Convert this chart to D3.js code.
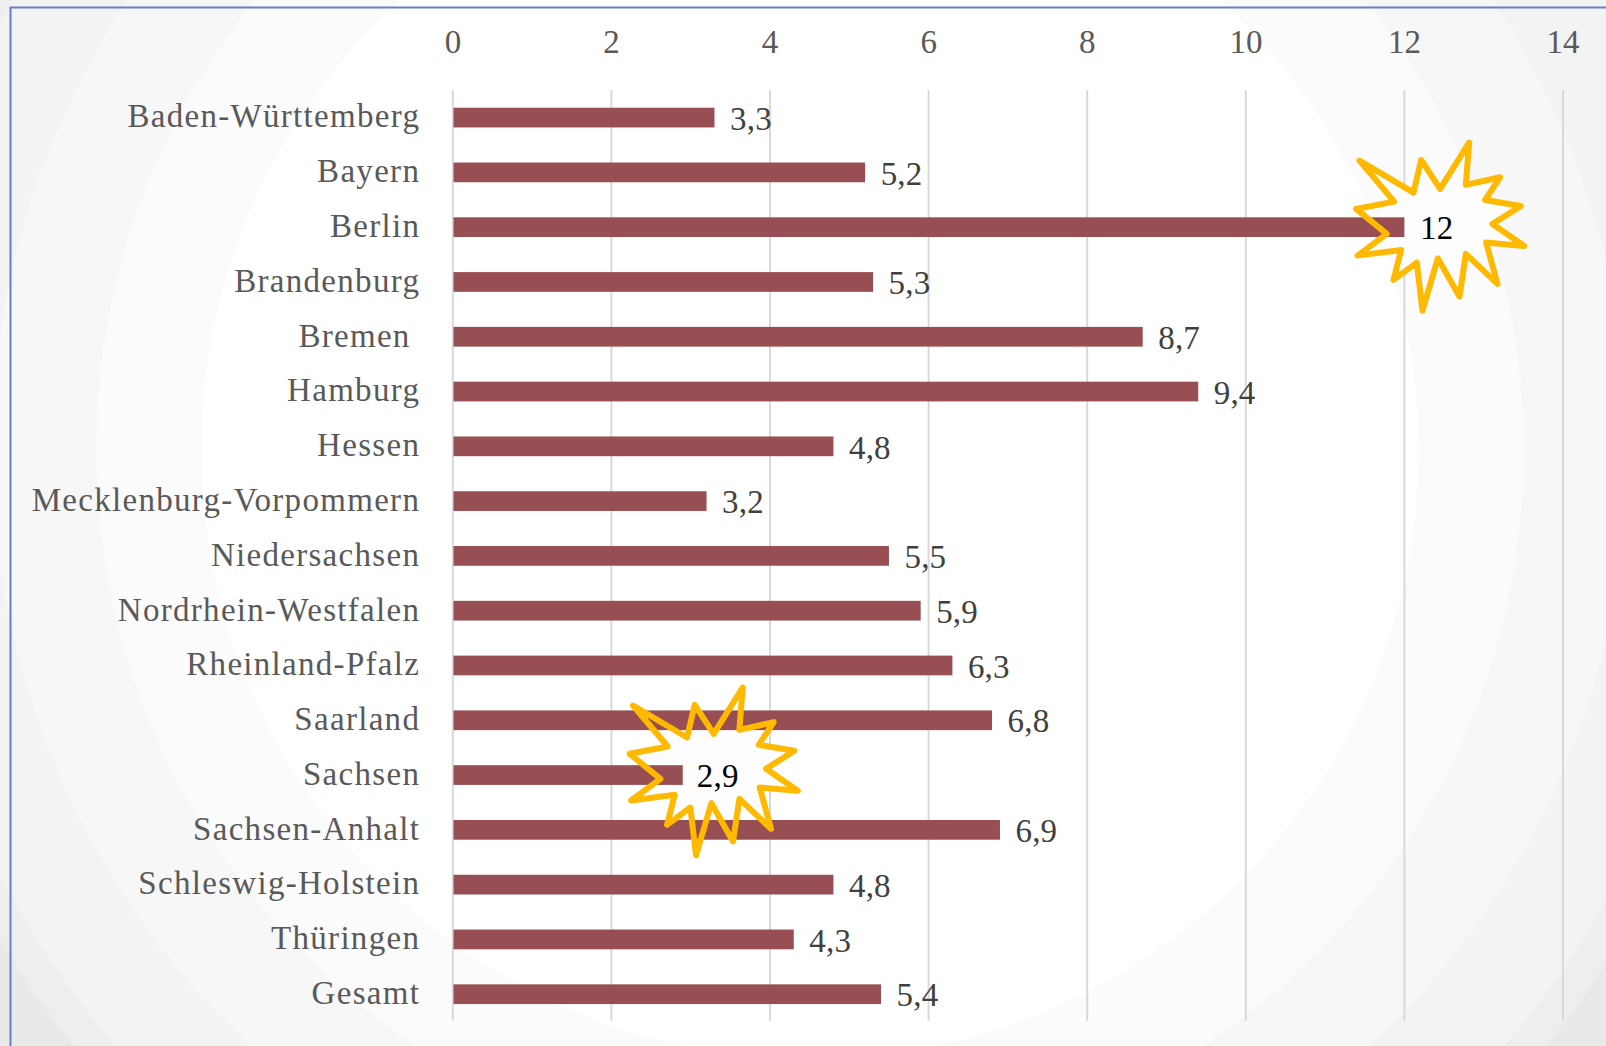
<!DOCTYPE html>
<html lang="de">
<head>
<meta charset="utf-8">
<title>Balkendiagramm Bundesländer</title>
<script src="https://cdn.jsdelivr.net/npm/d3@7"></script>
<style>
html,body{margin:0;padding:0;background:#fff;overflow:hidden}
svg{display:block}
text{font-family:"Liberation Serif",serif;white-space:pre}
</style>
</head>
<body>
<svg id="chart" width="1606" height="1046"></svg>
<script>
const categories = ["Baden-Württemberg","Bayern","Berlin","Brandenburg","Bremen ","Hamburg","Hessen","Mecklenburg-Vorpommern","Niedersachsen","Nordrhein-Westfalen","Rheinland-Pfalz","Saarland","Sachsen","Sachsen-Anhalt","Schleswig-Holstein","Thüringen","Gesamt"];
const values = [3.3,5.2,12,5.3,8.7,9.4,4.8,3.2,5.5,5.9,6.3,6.8,2.9,6.9,4.8,4.3,5.4];
const xTickValues = [0,2,4,6,8,10,12,14];
const highlighted = ["Berlin","Sachsen"];
const burstOffsets = {"Berlin":[32.4,1.1],"Sachsen":[27.6,-1.9]};
const highlightLabelOffsets = {"Berlin":32.4,"Sachsen":35};
const burstOutline = [[97,-257],[87,-130],[190,-153],[145,-85],[252,-67],[167,-13],[262,53],[148,43],[182,167],[87,77],[68,205],[3,90],[-43,247],[-60,103],[-130,155],[-107,65],[-238,82],[-150,17],[-242,-58],[-128,-80],[-232,-203],[-70,-107],[-47,-205],[10,-118]];
const ringRadii = [1400,947,915,818,714,609];
const ringColours = ["#e9e9e9","#eeeeee","#f3f3f3","#f7f7f7","#fbfbfb","#ffffff"];

const svg = d3.select("#chart");
const fmt = v => String(v).replace(".", ",");

svg.selectAll("circle.ring").data(ringRadii).join("circle")
  .attr("class","ring").attr("cx",810).attr("cy",450)
  .attr("r",d=>d).attr("fill",(d,i)=>ringColours[i]);

svg.append("path").attr("d","M10.5,1046V7.5H1606").attr("fill","none")
  .attr("stroke","#6280c8").attr("stroke-width",2);

const x = d3.scaleLinear().domain([0,14]).range([452.8,1563]);
const y = d3.scaleBand().domain(categories).range([90.2,1021.6]).paddingInner(0.64).paddingOuter(0.32);

svg.append("g").attr("class","grid")
  .selectAll("line").data(xTickValues).join("line")
  .attr("x1",d=>x(d)).attr("x2",d=>x(d)).attr("y1",90).attr("y2",1020.7)
  .attr("stroke","#d9d9d9").attr("stroke-width",2);

const topAxis = svg.append("g").attr("transform","translate(-0.4,66)")
  .call(d3.axisTop(x).tickValues(xTickValues).tickSize(0).tickPadding(13).tickFormat(d=>d));
topAxis.select(".domain").remove();
topAxis.selectAll("text").attr("font-size",33).attr("fill","#595959").style("font-family",'"Liberation Serif",serif');

const leftAxis = svg.append("g").attr("transform","translate(452.8,0)")
  .call(d3.axisLeft(y).tickSize(0).tickPadding(32.6));
leftAxis.select(".domain").remove();
leftAxis.selectAll("text").attr("font-size",33).attr("fill","#595959").attr("letter-spacing",1.3)
  .attr("dy",9.8).style("font-family",'"Liberation Serif",serif');

const burstPath = d3.line()(burstOutline.map(p=>[p[0]/3,p[1]/3])) + "Z";
const rows = categories.map((c,i)=>({c,v:values[i]}));
const hi = rows.filter(r=>highlighted.includes(r.c));
const burstT = r => `translate(${x(r.v)+burstOffsets[r.c][0]},${y(r.c)+y.bandwidth()/2+burstOffsets[r.c][1]})`;

svg.append("g").selectAll("path").data(hi).join("path")
  .attr("d",burstPath).attr("transform",burstT).attr("fill","#fdfdfd");

svg.append("g").selectAll("rect").data(rows).join("rect")
  .attr("x",d=>x(0)+0.7).attr("y",d=>y(d.c))
  .attr("width",d=>x(d.v)-x(0)-0.7).attr("height",y.bandwidth()).attr("fill","#984f53");

svg.append("g").selectAll("path").data(hi).join("path")
  .attr("d",burstPath).attr("transform",burstT).attr("fill","none")
  .attr("stroke","#ffb900").attr("stroke-width",6).attr("stroke-linejoin","round");

svg.append("g").selectAll("text").data(rows).join("text")
  .attr("x",d=>highlighted.includes(d.c) ? x(d.v)+highlightLabelOffsets[d.c] : x(d.v)+15.5)
  .attr("y",d=>y(d.c)+y.bandwidth()/2+12.2)
  .attr("text-anchor",d=>highlighted.includes(d.c) ? "middle":"start")
  .attr("font-size",33).attr("letter-spacing",0.2)
  .attr("fill",d=>highlighted.includes(d.c) ? "#000":"#404040")
  .text(d=>fmt(d.v));
</script>
</body>
</html>
